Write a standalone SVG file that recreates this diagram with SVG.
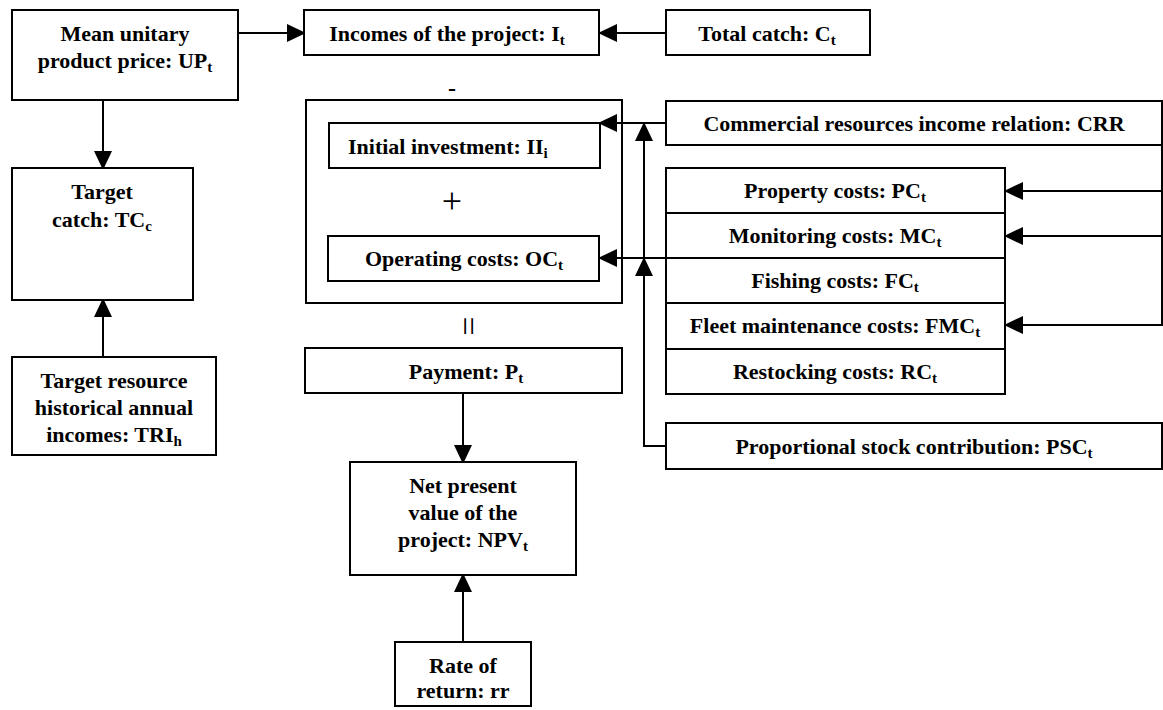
<svg xmlns="http://www.w3.org/2000/svg" width="1163" height="710" viewBox="0 0 1163 710">
  <style>
    .box { fill: #ffffff; stroke: #000000; stroke-width: 2; }
    .frame { fill: none; stroke: #000000; stroke-width: 2; }
    .lbl { font-weight: bold; font-size: 22px; fill: #000000; text-anchor: middle; }
    .sub { font-size: 15px; }
    .op { fill: #000000; text-anchor: middle; }
    .wire { fill: none; stroke: #000000; stroke-width: 2; }
    .arrow { marker-end: url(#head); }
  </style>
  <defs>
    <marker id="head" viewBox="0 0 19 18" refX="17" refY="9" markerWidth="19" markerHeight="18" orient="auto" markerUnits="userSpaceOnUse">
      <path d="M0,0 L19,9 L0,18 Z" fill="#000000"/>
    </marker>
  </defs>

  <rect width="1163" height="710" fill="#ffffff"/>

  <!-- connectors -->
  <g id="connectors">
    <path class="wire arrow" d="M238,33 H304"/>
    <path class="wire arrow" d="M666,33 H600"/>
    <path class="wire arrow" d="M103,100 V168"/>
    <path class="wire arrow" d="M103,357 V300"/>
    <path class="wire arrow" d="M666,123 H600"/>
    <path class="wire arrow" d="M666,258 H600"/>
    <path class="wire arrow" d="M666,446 H644 V259"/>
    <path class="wire arrow" d="M644,259 V124"/>
    <path class="wire arrow" d="M1162,145 V325 H1006"/>
    <path class="wire arrow" d="M1162,191 H1006"/>
    <path class="wire arrow" d="M1162,236 H1006"/>
    <path class="wire arrow" d="M463,393 V462"/>
    <path class="wire arrow" d="M463,642 V575"/>
  </g>

  <g font-family="Liberation Serif, Times New Roman, DejaVu Serif, serif">
  <g id="unit-price">
    <rect class="box" x="12" y="10" width="226" height="90"/>
    <text class="lbl" x="125" y="41">Mean unitary</text>
    <text class="lbl" x="125" y="68">product price: UP<tspan class="sub" dy="4">t</tspan></text>
  </g>

  <g id="incomes">
    <rect class="box" x="304" y="10" width="295" height="45"/>
    <text class="lbl" x="447" y="41">Incomes of the project: I<tspan class="sub" dy="4">t</tspan></text>
  </g>

  <g id="total-catch">
    <rect class="box" x="666" y="10" width="204" height="45"/>
    <text class="lbl" x="767" y="41">Total catch: C<tspan class="sub" dy="4">t</tspan></text>
  </g>

  <g id="target-catch">
    <rect class="box" x="12" y="168" width="181" height="132"/>
    <text class="lbl" x="102" y="199">Target</text>
    <text class="lbl" x="102" y="227">catch: TC<tspan class="sub" dy="4">c</tspan></text>
  </g>

  <g id="historical-incomes">
    <rect class="box" x="12" y="357" width="204" height="98"/>
    <text class="lbl" x="114" y="388">Target resource</text>
    <text class="lbl" x="114" y="415">historical annual</text>
    <text class="lbl" x="114" y="442">incomes: TRI<tspan class="sub" dy="4">h</tspan></text>
  </g>

  <!-- total costs: investment + operating -->
  <g id="costs">
    <text class="op" x="452" y="96" font-size="24" font-weight="bold">-</text>
    <rect class="frame" x="306" y="100" width="316" height="203"/>
    <text class="op" x="452" y="213" font-size="36">+</text>
    <text class="op" x="0" y="0" font-size="34" transform="translate(466,326) rotate(90) translate(0,9)">=</text>
  </g>

  <g id="initial-investment">
    <rect class="box" x="329" y="123" width="271" height="45"/>
    <text class="lbl" x="348" y="154" style="text-anchor:start">Initial investment: II<tspan class="sub" dy="4">i</tspan></text>
  </g>

  <g id="operating-costs">
    <rect class="box" x="328" y="236" width="271" height="45"/>
    <text class="lbl" x="464" y="266">Operating costs: OC<tspan class="sub" dy="4">t</tspan></text>
  </g>

  <g id="crr">
    <rect class="box" x="666" y="101" width="496" height="44"/>
    <text class="lbl" x="914" y="131">Commercial resources income relation: CRR</text>
  </g>

  <g id="property-costs">
    <rect class="box" x="666" y="168" width="339" height="45"/>
    <text class="lbl" x="835" y="198">Property costs: PC<tspan class="sub" dy="4">t</tspan></text>
  </g>

  <g id="monitoring-costs">
    <rect class="box" x="666" y="213" width="339" height="45"/>
    <text class="lbl" x="835" y="243">Monitoring costs: MC<tspan class="sub" dy="4">t</tspan></text>
  </g>

  <g id="fishing-costs">
    <rect class="box" x="666" y="258" width="339" height="45"/>
    <text class="lbl" x="835" y="288">Fishing costs: FC<tspan class="sub" dy="4">t</tspan></text>
  </g>

  <g id="fleet-costs">
    <rect class="box" x="666" y="303" width="339" height="46"/>
    <text class="lbl" x="835" y="333">Fleet maintenance costs: FMC<tspan class="sub" dy="4">t</tspan></text>
  </g>

  <g id="restocking-costs">
    <rect class="box" x="666" y="349" width="339" height="45"/>
    <text class="lbl" x="835" y="379">Restocking costs: RC<tspan class="sub" dy="4">t</tspan></text>
  </g>

  <g id="stock-contribution">
    <rect class="box" x="666" y="423" width="496" height="46"/>
    <text class="lbl" x="914" y="454">Proportional stock contribution: PSC<tspan class="sub" dy="4">t</tspan></text>
  </g>

  <g id="payment">
    <rect class="box" x="305" y="348" width="317" height="45"/>
    <text class="lbl" x="466" y="379">Payment: P<tspan class="sub" dy="4">t</tspan></text>
  </g>

  <g id="npv">
    <rect class="box" x="350" y="462" width="226" height="113"/>
    <text class="lbl" x="463" y="493">Net present</text>
    <text class="lbl" x="463" y="520">value of the</text>
    <text class="lbl" x="463" y="547">project: NPV<tspan class="sub" dy="4">t</tspan></text>
  </g>

  <g id="rate-of-return">
    <rect class="box" x="395" y="642" width="136" height="64"/>
    <text class="lbl" x="463" y="673">Rate of</text>
    <text class="lbl" x="463" y="698">return: rr</text>
  </g>
  </g>
</svg>
